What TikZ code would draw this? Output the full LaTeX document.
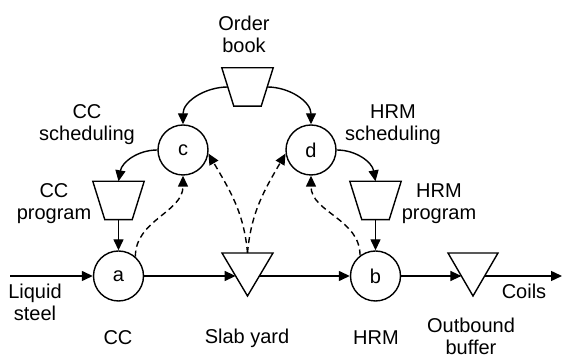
\documentclass[tikz,border=0pt]{standalone}
\usepackage{fontspec}
\setmainfont{Liberation Sans}
\usetikzlibrary{arrows.meta}
\begin{document}
\begin{tikzpicture}[x=1pt,y=1pt,
  every node/.style={font=\fontsize{20}{22}\selectfont},
  proc/.style={circle,draw,line width=1.4pt,minimum size=50pt,inner sep=0pt},
  lbl/.style={align=center,inner sep=0pt},
  store/.style={rectangle,minimum width=51pt,minimum height=38pt,inner sep=0pt},
  buf/.style={draw,line width=1.4pt,line join=miter},
  flow/.style={line width=1.4pt,-{Triangle[length=11pt,width=10pt]}},
  info/.style={flow,dash pattern=on 6pt off 4pt}]
\useasboundingbox (0,0) rectangle (563,358);
% nodes
\node[store] (ob) at (247.5,271) {};
\node[proc] (c) at (183,208) {c};
\node[proc] (d) at (311,208) {d};
\node[store] (ccp) at (118.5,157.5) {};
\node[store] (hrmp) at (375.5,157.5) {};
\node[proc] (a) at (118.5,82) {a};
\node[proc] (b) at (375.5,82) {b};
\foreach \n in {ob,ccp,hrmp}
  \draw[buf] (\n.north west) -- (\n.north east)
    -- ([xshift=-12pt]\n.south east) -- ([xshift=12pt]\n.south west) -- cycle;
% buffers
\draw[buf] (222,105) -- (273,105) -- (247.5,62) -- cycle;
\coordinate (syT) at (247.5,105);
\coordinate (syL) at (235.6,82);
\coordinate (syR) at (259.4,82);
\draw[buf] (448,105) -- (498,105) -- (473,62) -- cycle;
\coordinate (obL) at (461.4,82);
\coordinate (obR) at (484.6,82);
\coordinate (ls) at (10,82);
\coordinate (coils) at (562,82);
% labels
\node[lbl] (tob) at (244,324) {Order\\book};
\node[lbl] (tccs) at (87,233) {CC\\scheduling};
\node[lbl] (thrms) at (393,233) {HRM\\scheduling};
\node[lbl] (tccp) at (54,154) {CC\\program};
\node[lbl] (thrmp) at (439,154) {HRM\\program};
\node[lbl] (tls) at (35,56) {Liquid\\steel};
\node[lbl] (tcc) at (118,20) {CC};
\node[lbl] (tsy) at (247,20) {Slab yard};
\node[lbl] (thrm) at (376,20) {HRM};
\node[lbl] (tobuf) at (471,22) {Outbound\\buffer};
\node[lbl] (tcoils) at (524,67) {Coils};
% material flow
\draw[flow] (ls) -- (a);
\draw[flow] (a) -- (syL);
\draw[flow] (syR) -- (b);
\draw[flow] (b) -- (obL);
\draw[flow] (obR) -- (coils);
% information flow
\draw[flow] ([xshift=6pt]ob.west) to[out=180,in=90] (c.north);
\draw[flow] ([xshift=-6pt]ob.east) to[out=0,in=90] (d.north);
\draw[flow] (c.west) to[out=180,in=80] (ccp.north);
\draw[flow] (d.east) to[out=0,in=100] (hrmp.north);
\draw[flow] (ccp.south) -- (a.north);
\draw[flow] (hrmp.south) -- (b.north);
\draw[info] (a.49) to[out=90,in=-90] (c.south);
\draw[info] (b.127) to[out=90,in=-90] (d.south);
\draw[info] (syT) to[out=95,in=-60] (c.-8);
\draw[info] (syT) to[out=85,in=-120] (d.188);
\end{tikzpicture}
\end{document}
